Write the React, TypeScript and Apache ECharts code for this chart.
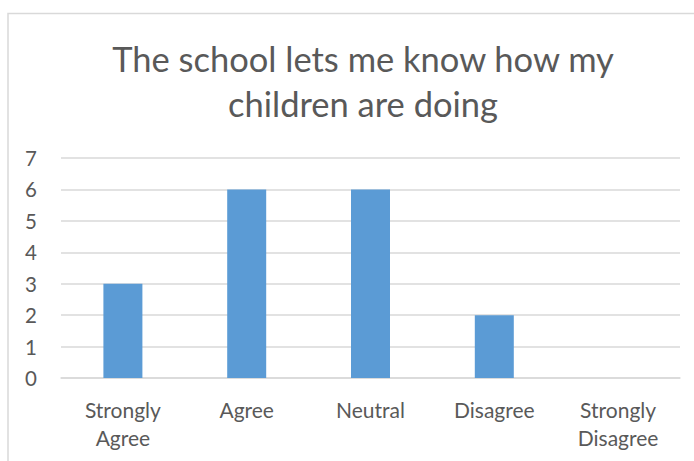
import React, { useEffect, useRef } from "react";
import * as echarts from "echarts";

const categories = ["Strongly\nAgree", "Agree", "Neutral", "Disagree", "Strongly\nDisagree"];
const values = [3, 6, 6, 2, 0];
const titleText = "The school lets me know how my\nchildren are doing";

export default function App() {
  const ref = useRef<HTMLDivElement>(null);
  useEffect(() => {
    if (!ref.current) return;
    const chart = echarts.init(ref.current, null, { renderer: "svg" });
    chart.setOption({
      animation: false,
      backgroundColor: "#ffffff",
      title: {
        text: titleText,
        left: 358,
        top: 31,
        textAlign: "center",
        textStyle: {
          fontFamily: "Lato",
          fontWeight: "normal",
          fontSize: 34.5,
          lineHeight: 45,
          color: "#595959",
        },
      },
      graphic: [
        {
          type: "rect",
          shape: { x: 8, y: 13.5, width: 700, height: 460 },
          style: { fill: "none", stroke: "#d9d9d9", lineWidth: 1.5 },
          silent: true,
        },
      ],
      grid: { left: 61, right: 14, top: 158, height: 220 },
      xAxis: {
        type: "category",
        data: categories,
        axisLine: { lineStyle: { color: "#d9d9d9", width: 1.5 } },
        axisTick: { show: false },
        axisLabel: {
          fontFamily: "Lato",
          fontSize: 21,
          lineHeight: 28,
          color: "#595959",
          margin: 17,
          interval: 0,
        },
      },
      yAxis: {
        type: "value",
        min: 0,
        max: 7,
        interval: 1,
        axisLine: { show: false },
        axisTick: { show: false },
        splitLine: { lineStyle: { color: "#d9d9d9", width: 1.5 } },
        axisLabel: {
          fontFamily: "Lato",
          fontSize: 20.5,
          color: "#595959",
          margin: 24,
        },
      },
      series: [
        {
          type: "bar",
          data: values,
          barWidth: "31.5%",
          itemStyle: { color: "#5b9bd5" },
        },
      ],
    });
    return () => chart.dispose();
  }, []);
  return (
    <div
      ref={ref}
      style={{ position: "absolute", left: 0, top: 0, width: 694, height: 461 }}
    />
  );
}
